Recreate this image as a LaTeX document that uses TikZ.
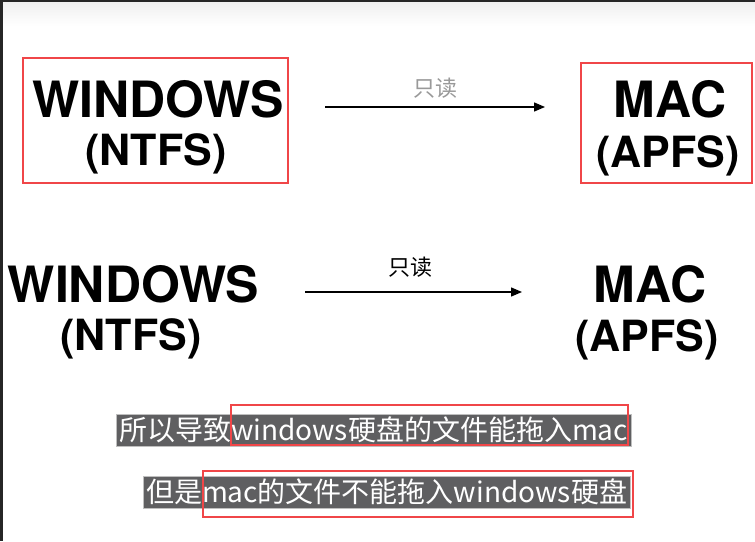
\documentclass[tikz,border=0pt]{standalone}
\usepackage{fontspec}
\setmainfont{TeX Gyre Heros}
\newfontfamily\cjk{Noto Sans CJK SC}
\usetikzlibrary{arrows.meta}
\definecolor{frame}{RGB}{38,38,38}
\definecolor{hlred}{RGB}{240,70,72}
\definecolor{subbg}{RGB}{95,95,97}

\begin{document}
\begin{tikzpicture}[x=1pt,y=-1pt,>={Triangle[length=11pt,width=9pt]},semithick]
	\tikzstyle{big}=[font=\fontsize{50}{52}\selectfont\bfseries,inner sep=0pt,anchor=base]
	\tikzstyle{fs}=[font=\fontsize{43}{46}\selectfont\bfseries,inner sep=0pt,anchor=base]
	\tikzstyle{redbox}=[draw=hlred,line width=1.5pt,inner sep=0pt]
	\tikzstyle{flow}=[->,line width=1.3pt]
	\tikzstyle{readonly}=[midway,above=5pt,font=\cjk\fontsize{22}{22}\selectfont]
	\tikzstyle{sub}=[fill=subbg,draw=black!25,thin,text=white,font=\cjk\fontsize{28}{30}\selectfont,inner xsep=3pt,inner ysep=1pt,minimum height=32pt]

	% frame and background
	\fill[frame] (0,0) rectangle (755,541);
	\fill[white] (3,2) rectangle (755,541);
	\shade[top color=black!6,bottom color=white] (3,2) rectangle (755,26);

	% first row, boxed
	\node[redbox,minimum width=265pt,minimum height=125pt] (box1) at (155.5,120.5) {};
	\node[redbox,minimum width=171pt,minimum height=120pt] (box2) at (666.5,123) {};
	\node[big] (win1) at (158,117) {WINDOWS};
	\node[fs] (ntfs1) at (156,165) {(NTFS)};
	\node[big] (mac1) at (670,117) {MAC};
	\node[fs] (apfs1) at (668,167) {(APFS)};
	\coordinate (r1s) at (325,107);
	\coordinate (r1e) at (545,107);
	\draw[flow] (r1s) -- node[readonly,text=black!40] (ro1) {只读} (r1e);

	% second row
	\node[big] (win2) at (133.5,302) {WINDOWS};
	\node[fs] (ntfs2) at (131,350) {(NTFS)};
	\node[big] (mac2) at (650,302) {MAC};
	\node[fs] (apfs2) at (647,351) {(APFS)};
	\coordinate (r2s) at (305,292);
	\coordinate (r2e) at (522,292);
	\draw[flow] (r2s) -- node[readonly,above=6pt,xshift=-3pt] (ro2) {只读} (r2e);

	% subtitles
	\node[sub] (line1) at (373.5,430) {所以导致windows硬盘的文件能拖入mac};
	\node[sub] (line2) at (386.5,492) {但是mac的文件不能拖入windows硬盘};
	\draw[redbox,line width=2pt] (231,405) rectangle (628,445);
	\draw[redbox,line width=2pt] (203,471) rectangle (633,517);
\end{tikzpicture}
\end{document}
